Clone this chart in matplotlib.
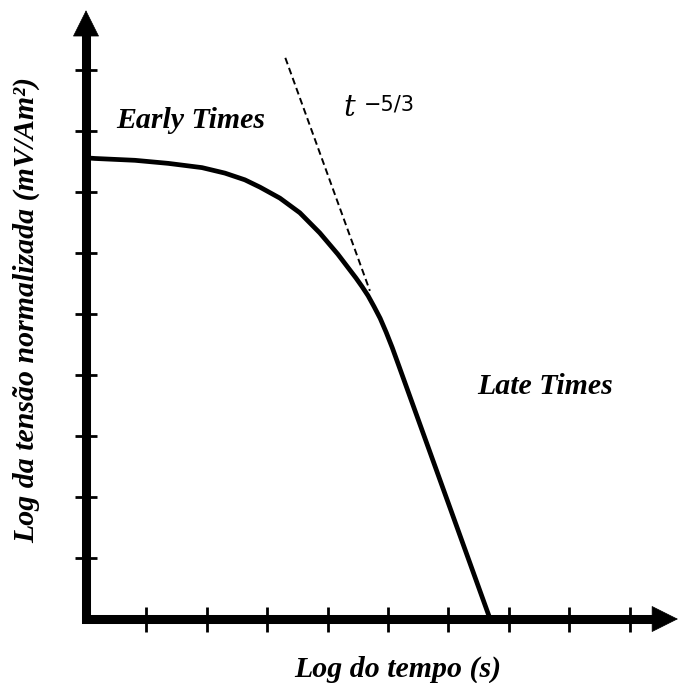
import matplotlib
matplotlib.use("Agg")
import matplotlib.pyplot as plt

# curve, in "log" units (tick spacing = 1)
curve_x = [0.0, 0.15, 0.81, 1.36, 1.92, 2.30, 2.63, 2.88, 3.21, 3.54,
           3.87, 4.17, 4.37, 4.47, 4.57, 4.67, 4.77, 4.87, 4.97, 5.07,
           5.18, 6.69]
curve_y = [7.56, 7.55, 7.52, 7.47, 7.40, 7.31, 7.20, 7.08, 6.90, 6.66,
           6.33, 5.98, 5.72, 5.59, 5.45, 5.30, 5.12, 4.93, 4.70, 4.45,
           4.15, 0.0]

# t^(-5/3) guide line
guide_x = [3.30, 4.70]
guide_y = [9.20, 5.38]

x_ticks = [1, 2, 3, 4, 5, 6, 7, 8, 9]
y_ticks = [1, 2, 3, 4, 5, 6, 7, 8, 9]

x_tip = 9.80
y_tip = 9.98

label_font = dict(family="Liberation Serif", weight="bold", style="italic", size=21.5)

fig = plt.figure(figsize=(6.79, 6.83), dpi=100)
ax = fig.add_axes([0, 0, 1, 1])
ax.set_xlim(-1.424, 9.818)
ax.set_ylim(-1.049, 10.148)
ax.axis("off")

# axes lines with arrow heads
ax.plot([0, 0, x_tip - 0.3], [y_tip - 0.3, 0, 0], color="k", lw=6.5,
        solid_joinstyle="miter", solid_capstyle="butt")
arrow = dict(arrowstyle="-|>,head_length=1.0,head_width=0.5", mutation_scale=18,
             lw=0.5, color="k", shrinkA=0, shrinkB=0)
ax.annotate("", xy=(0, y_tip), xytext=(0, y_tip - 0.6), arrowprops=arrow,
            annotation_clip=False)
ax.annotate("", xy=(x_tip, 0), xytext=(x_tip - 0.6, 0), arrowprops=arrow,
            annotation_clip=False)

# tick marks
ax.plot(x_ticks, [0] * len(x_ticks), ls="none", marker="|", ms=18, mew=2, color="k")
ax.plot([0] * len(y_ticks), y_ticks, ls="none", marker="_", ms=16, mew=2, color="k")

# response curve and slope guide
ax.plot(curve_x, curve_y, color="k", lw=3.4, solid_joinstyle="round")
ax.plot(guide_x, guide_y, color="k", lw=1.4, ls=(0, (3.5, 2)))

ax.text(0.50, 8.05, "Early Times", ha="left", va="baseline", **label_font)
ax.text(6.47, 3.69, "Late Times", ha="left", va="baseline", **label_font)
ax.text(4.26, 8.24, "t", ha="left", va="baseline", family="DejaVu Serif",
        style="italic", size=21)
ax.text(4.60, 8.34, "\u22125/3", ha="left", va="baseline", family="DejaVu Sans",
        size=15)

ax.text(5.17, -0.95, "Log do tempo (s)", ha="center", va="baseline", **label_font)
ax.text(-0.98, 5.07, "Log da tensão normalizada (mV/Am²)", ha="center", va="center",
        rotation=90, **label_font)

fig.savefig("out.png", dpi=100)
